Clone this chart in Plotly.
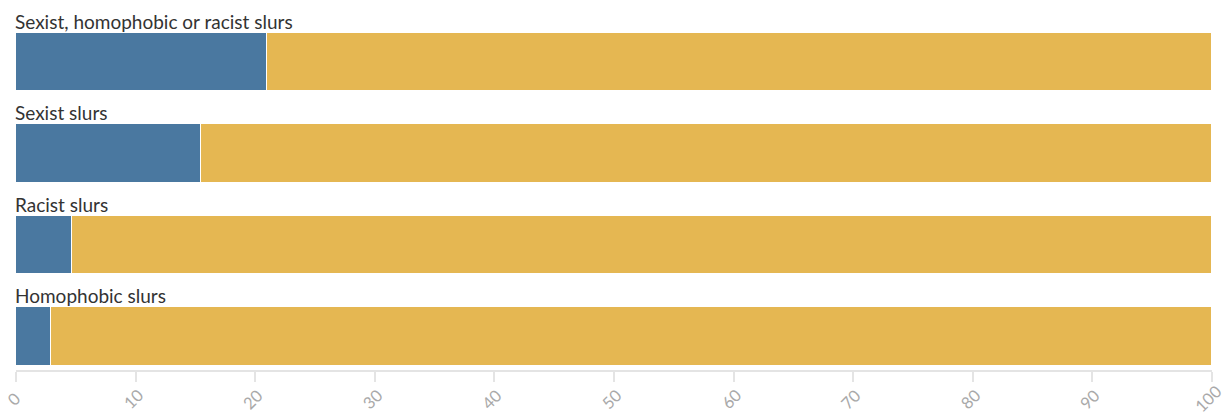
import plotly.graph_objects as go

categories = ["Sexist, homophobic or racist slurs", "Sexist slurs", "Racist slurs", "Homophobic slurs"]
with_slurs = [21.0, 15.5, 4.7, 2.9]
without_slurs = [79.0, 84.5, 95.3, 97.1]
tick_vals = [0, 10, 20, 30, 40, 50, 60, 70, 80, 90, 100]
tick_labels = [str(v) for v in tick_vals]

pos = list(range(len(categories)))

fig = go.Figure()
fig.add_trace(go.Bar(y=pos, x=with_slurs, orientation="h", width=0.635,
                     marker=dict(color="#4a78a0", line=dict(color="white", width=1.5)),
                     hoverinfo="skip"))
fig.add_trace(go.Bar(y=pos, x=without_slurs, orientation="h", width=0.635,
                     marker=dict(color="#e5b752", line=dict(color="white", width=1.5)),
                     hoverinfo="skip"))

for p, c in zip(pos, categories):
    fig.add_annotation(x=0, y=p - 0.3175, xref="x", yref="y", text=c, showarrow=False,
                       xanchor="left", yanchor="bottom", xshift=-3, yshift=-2,
                       font=dict(family="Lato, Noto Sans, sans-serif", size=19, color="#333333"))

# rotated tick labels centred under each tick
for v, t in zip(tick_vals, tick_labels):
    fig.add_annotation(x=v, y=0, xref="x", yref="paper", text=t, showarrow=False,
                       textangle=-45, xanchor="center", yanchor="middle", yshift=-29,
                       xshift=-4 if v == tick_vals[-1] else -2,
                       font=dict(family="Lato, Noto Sans, sans-serif", size=16.5, color="#a9a9a9"))

fig.update_layout(
    barmode="stack",
    width=1225, height=413,
    margin=dict(l=16, r=13, t=10, b=43, autoexpand=False),
    paper_bgcolor="white", plot_bgcolor="white",
    showlegend=False,
    bargap=0,
    xaxis=dict(range=[0, 100], tickvals=tick_vals, showticklabels=False, showgrid=False,
               zeroline=False, automargin=False,
               showline=True, linecolor="#e4e4e4", linewidth=2, ticks="outside", ticklen=10,
               tickcolor="#e4e4e4", tickwidth=2),
    yaxis=dict(range=[3.366, -0.568], showticklabels=False, showgrid=False, zeroline=False,
               showline=False, automargin=False),
)

fig.write_html("out.html", config={"displayModeBar": False},
               post_script="document.body.style.margin='0';document.body.style.overflow='hidden';")
